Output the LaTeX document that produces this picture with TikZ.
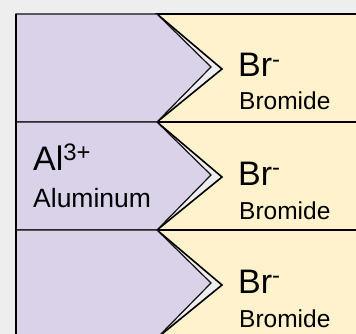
\documentclass[tikz,border=0pt]{standalone}
\usepackage{fontspec}
\setmainfont{Liberation Sans}
\usetikzlibrary{positioning,calc}
\definecolor{Fondo}{HTML}{EEEEEE}
\definecolor{Lila}{HTML}{D9D2E9}
\definecolor{Crema}{HTML}{FFF2CC}
\definecolor{Trazo}{HTML}{111111}

\begin{document}
\begin{tikzpicture}[x=1pt,y=-1pt,
    cation/.style={fill=Lila,draw=Trazo,line width=1.2pt,line join=miter},
    anion/.style={fill=Crema,draw=black,line width=1.6pt,line join=miter},
    simbolo/.style={anchor=base west,inner sep=0pt,font=\fontsize{34}{38}\selectfont},
    nombre/.style={anchor=base west,inner sep=0pt,font=\fontsize{24.5}{28}\selectfont}]
    \fill[Fondo] (0,0) rectangle (356,334);
    \useasboundingbox (0,0) rectangle (356,334);
    \clip (0,0) rectangle (356,334);
    % bromide side
    \draw[anion] (157,14) -- (362,14) -- (362,122) -- (157,122) -- (222,69) -- cycle;
    \draw[anion] (157,122) -- (362,122) -- (362,230) -- (157,230) -- (222,177) -- cycle;
    \draw[anion] (157,230) -- (362,230) -- (362,338) -- (157,338) -- (222,285) -- cycle;
    % aluminum side
    \draw[cation] (16,14) -- (157,14) -- (211,67) -- (157,122) -- (16,122) -- cycle;
    \draw[cation] (16,122) -- (157,122) -- (211,175) -- (157,230) -- (16,230) -- cycle;
    \draw[cation] (16,230) -- (157,230) -- (211,283) -- (157,338) -- (16,338) -- cycle;
    \draw[line width=1.4pt] (16,14) -- (16,338);
    % labels
    \node[simbolo] (al) at (33,170) {Al\textsuperscript{3+}};
    \node[nombre,font=\fontsize{26.5}{30}\selectfont] (aluminio) at (33,207) {Aluminum};
    \node[simbolo] (br1) at (238,77) {Br\textsuperscript{-}};
    \node[nombre] (bromuro1) at (239,110) {Bromide};
    \node[simbolo] (br2) at (238,185) {Br\textsuperscript{-}};
    \node[nombre] (bromuro2) at (239,219) {Bromide};
    \node[simbolo] (br3) at (238,293) {Br\textsuperscript{-}};
    \node[nombre] (bromuro3) at (239,327) {Bromide};
  \end{tikzpicture}
\end{document}
